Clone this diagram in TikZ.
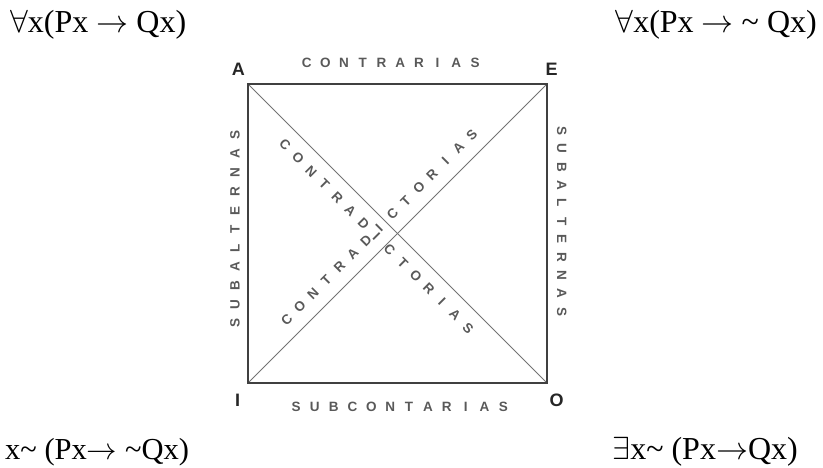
\RequirePackage{fix-cm}
\documentclass[tikz,border=0pt]{standalone}
\usepackage{fontspec}
\setmainfont{Liberation Serif}
\newfontfamily\lblfont{Liberation Sans}
\usetikzlibrary{calc}

\tikzset{
  frame/.style={draw=black!75, line width=1.4pt},
  diag/.style={draw=black!55, line width=0.9pt},
  corner/.style={font=\lblfont\bfseries\fontsize{18}{18}\selectfont, text=black!85, inner sep=0pt},
  spaced/.style={font=\lblfont\bfseries\fontsize{13.5}{13.5}\selectfont, text=black!65, inner sep=0pt},
  formula/.style={font=\fontsize{32}{38}\selectfont, inner sep=0pt},
  formulab/.style={font=\fontsize{30.5}{36}\selectfont, inner sep=0pt}
}

\newcommand\spacedword[5]{%
  \foreach \l [count=\i] in {#5} {
    \node[spaced, rotate=#3] (#1\i) at ($#2+(#3:{(\i-1)*#4})$) {\l};
  }%
}
\newcommand\tld{\textasciitilde}

\begin{document}
\begin{tikzpicture}[x=1pt,y=1pt]
  \useasboundingbox (0,0) rectangle (823,467);

  % square corners
  \coordinate (cA) at (248,383);
  \coordinate (cE) at (547,383);
  \coordinate (cI) at (248,84);
  \coordinate (cO) at (547,84);

  \draw[diag] (cA) -- (cO);
  \draw[diag] (cI) -- (cE);
  \draw[frame] (cA) -- (cE) -- (cO) -- (cI) -- cycle;

  % corner letters
  \node[corner] (lA) at (238.3,398) {A};
  \node[corner] (lE) at (551.7,398) {E};
  \node[corner] (lI) at (237.5,66.5) {I};
  \node[corner] (lO) at (556.7,67) {O};

  % spaced labels
  \spacedword{ct}{(306.7,404.3)}{0}{18.7}{C,O,N,T,R,A,R,I,A,S}
  \spacedword{sc}{(296,60.3)}{0}{18.85}{S,U,B,C,O,N,T,A,R,I,A,S}
  \spacedword{sl}{(235,143.7)}{90}{18.8}{S,U,B,A,L,T,E,R,N,A,S}
  \spacedword{sr}{(561.7,336.3)}{-90}{18.1}{S,U,B,A,L,T,E,R,N,A,S}
  \spacedword{dao}{(285,322)}{-45}{18.5}{C,O,N,T,R,A,D,I,C,T,O,R,I,A,S}
  \spacedword{die}{(286.7,147)}{45}{18.7}{C,O,N,T,R,A,D,I,C,T,O,R,I,A,S}

  % formulas
  \node[formula, anchor=base west] (fA) at (10,434) {\(\forall\)x(Px \(\rightarrow\) Qx)};
  \node[formula, anchor=base east] (fE) at (817,434) {\(\forall\)x(Px \(\rightarrow\) \tld{} Qx)};
  \node[formulab, anchor=base west] (fI) at (5,8) {x\tld{} (Px\(\rightarrow\) \tld{}Qx)};
  \node[formula, anchor=base east] (fO) at (798,8) {\(\exists\)x\tld{} (Px\(\rightarrow\)Qx)};
\end{tikzpicture}
\end{document}
